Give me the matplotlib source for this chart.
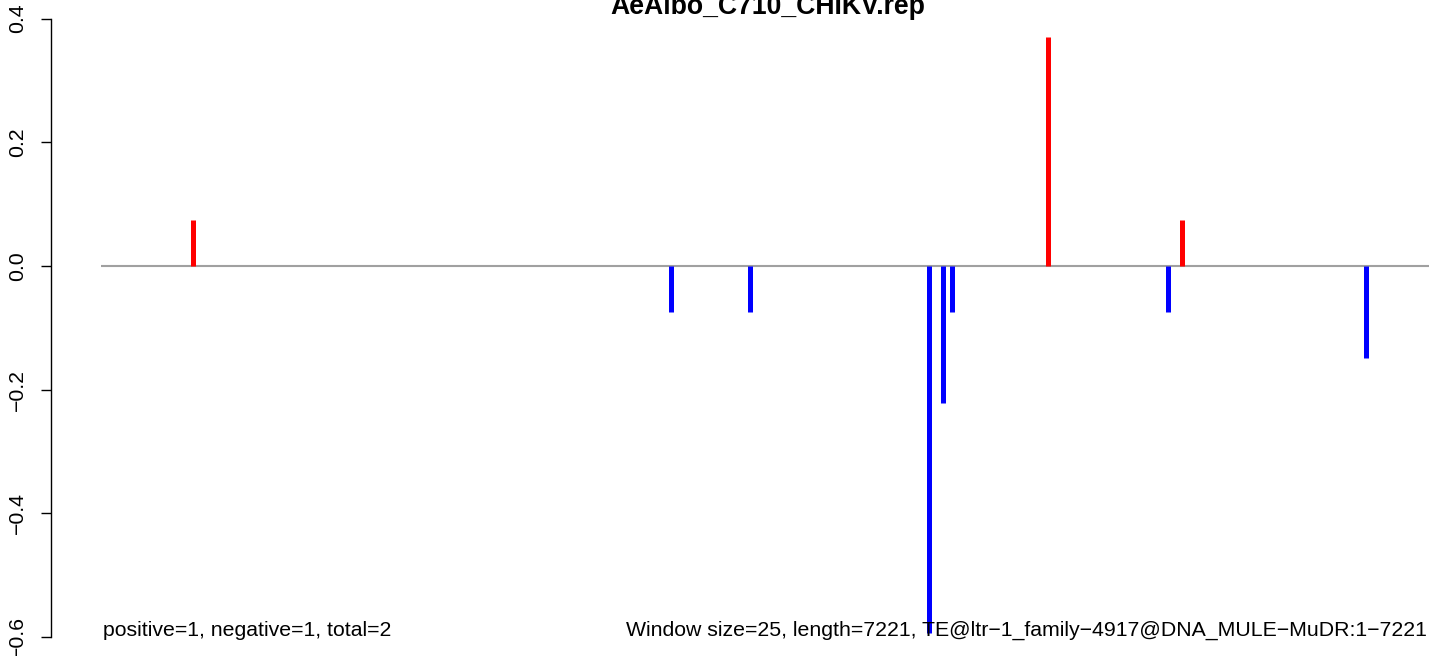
import numpy as np
import matplotlib
matplotlib.use('Agg')
import matplotlib.pyplot as plt

# Window index (25 bp windows over 7221 bp) and score per window
title = 'AeAlbo_C710_CHIKV.rep'
n_windows = 289
positions = [20, 124, 141, 180, 183, 185, 206, 232, 235, 275]
scores = [0.074, -0.074, -0.074, -0.593, -0.222, -0.074, 0.370, -0.074, 0.074, -0.148]
y_ticks = [-0.6, -0.4, -0.2, 0.0, 0.2, 0.4]
left_note = 'positive=1, negative=1, total=2'
right_note = 'Window size=25, length=7221, TE@ltr\u22121_family\u22124917@DNA_MULE\u2212MuDR:1\u22127221'

plt.rcParams['font.family'] = ['Liberation Sans', 'DejaVu Sans']

W, H = 1429, 656
fig = plt.figure(figsize=(W / 100, H / 100), dpi=100)
ax_left = 50.7 / W
ax = fig.add_axes([ax_left, 0, 1 - ax_left, 1])

# zero line
ax.hlines(0, 0, n_windows, colors='#A0A0A0', linewidth=1.5, zorder=1)

scores = np.array(scores)
colors = np.where(scores > 0, '#FF0000', '#0000FF')
ax.vlines(positions, 0, scores, colors=colors, linewidth=3.6, zorder=2)
for coll in ax.collections:
    coll.set_capstyle('butt')

ax.set_xlim(-11.03, 288.8)
ax.set_ylim(-0.6307, 0.4302)

for s in ['top', 'right', 'bottom']:
    ax.spines[s].set_visible(False)
ax.spines['left'].set_bounds(-0.6, 0.4)
ax.spines['left'].set_linewidth(1.0)
ax.set_xticks([])
ax.set_yticks(y_ticks)
ax.set_yticklabels(['\u22120.6', '\u22120.4', '\u22120.2', '0.0', '0.2', '0.4'],
                   rotation=90, va='center', fontsize=15.3)
ax.tick_params(axis='y', length=7.2, width=1.0, pad=10)

ax.text(0.3, -0.5984, left_note, ha='left', va='baseline', fontsize=15.3, zorder=3)
ax.text(288.4, -0.5984, right_note, ha='right', va='baseline', fontsize=15.3, zorder=3)

# title sits partly above the top edge, as in the original
fig.text(767.5 / W, 1 - 14 / H, title, ha='center', va='baseline',
         fontsize=19.2, fontweight='bold')

fig.savefig('out.png', dpi=100)
